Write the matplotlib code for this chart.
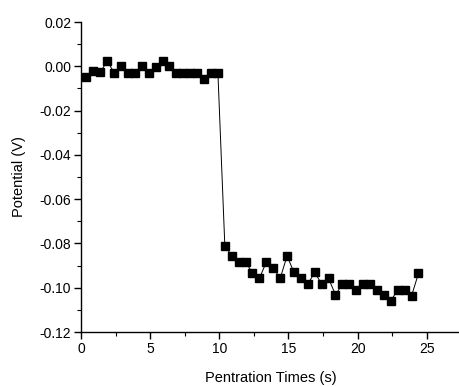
import matplotlib
matplotlib.use("Agg")
import matplotlib.pyplot as plt
from matplotlib.ticker import MultipleLocator, FormatStrFormatter

plt.rcParams["font.family"] = ["Liberation Sans", "DejaVu Sans"]

# penetration time (s) and measured potential (V)
times = [0.4, 0.9, 1.4, 1.9, 2.4, 2.9, 3.4, 3.9, 4.4, 4.9,
         5.4, 5.9, 6.4, 6.9, 7.4, 7.9, 8.4, 8.9, 9.4, 9.9,
         10.4, 10.9, 11.4, 11.9, 12.4, 12.9, 13.4, 13.9, 14.4, 14.9,
         15.4, 15.9, 16.4, 16.9, 17.4, 17.9, 18.4, 18.9, 19.4, 19.9,
         20.4, 20.9, 21.4, 21.9, 22.4, 22.9, 23.4, 23.9, 24.4]
potential = [-0.0050, -0.0023, -0.0027, 0.0025, -0.0030, 0.0003, -0.0030, -0.0030, 0.0000, -0.0030,
             -0.0003, 0.0025, 0.0000, -0.0030, -0.0030, -0.0030, -0.0030, -0.0055, -0.0030, -0.0030,
             -0.0810, -0.0856, -0.0883, -0.0883, -0.0934, -0.0958, -0.0883, -0.0909, -0.0958, -0.0856,
             -0.0931, -0.0958, -0.0983, -0.0931, -0.0983, -0.0958, -0.1032, -0.0983, -0.0983, -0.1009,
             -0.0983, -0.0983, -0.1009, -0.1032, -0.1059, -0.1009, -0.1009, -0.1036, -0.0935]

fig = plt.figure(figsize=(4.6, 3.87), dpi=100)
ax = fig.add_axes([0.176, 0.142, 0.824, 0.801])

ax.plot(times, potential, color="black", linewidth=0.7, marker="s",
        markersize=5.3, markerfacecolor="black", markeredgecolor="black")

ax.set_xlim(0, 27.4)
ax.set_ylim(-0.12, 0.02)
ax.xaxis.set_major_locator(MultipleLocator(5))
ax.xaxis.set_minor_locator(MultipleLocator(2.5))
ax.yaxis.set_major_locator(MultipleLocator(0.02))
ax.yaxis.set_minor_locator(MultipleLocator(0.01))
ax.yaxis.set_major_formatter(FormatStrFormatter("%.2f"))

ax.spines["top"].set_visible(False)
ax.spines["right"].set_visible(False)
for s in ("left", "bottom"):
	ax.spines[s].set_linewidth(1.0)

ax.tick_params(axis="both", which="major", direction="out", length=5, width=1.0, labelsize=10, pad=2)
ax.tick_params(axis="both", which="minor", direction="out", length=3, width=0.8)

ax.set_xlabel("Pentration Times (s)", fontsize=10.5, labelpad=11)
ax.set_ylabel("Potential (V)", fontsize=10.5, labelpad=10)

fig.savefig("out.png", dpi=100)
